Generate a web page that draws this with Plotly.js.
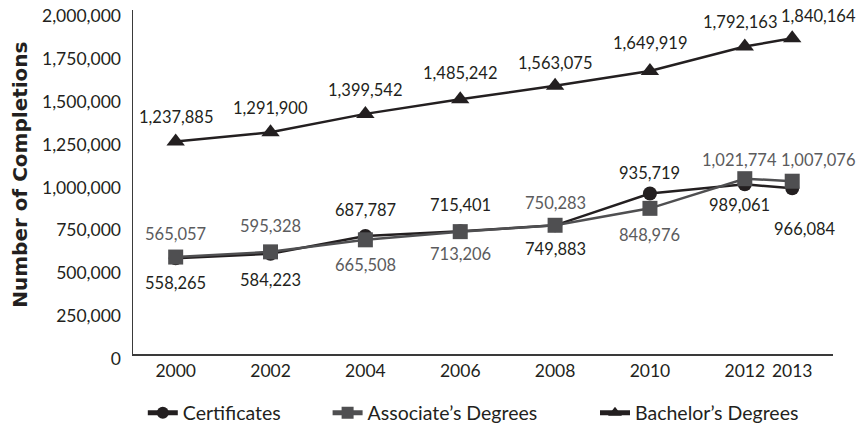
<!DOCTYPE html>
<html>
<head>
<meta charset="utf-8">
<script src="https://cdn.plot.ly/plotly-3.0.1.min.js"></script>
<style>html,body{margin:0;padding:0;background:#fff;}#chart{width:859px;height:427px;}</style>
</head>
<body>
<div id="chart"></div>
<script>
// ---- data ----
const years = [2000, 2002, 2004, 2006, 2008, 2010, 2012, 2013];
const yearLabels = ['2000', '2002', '2004', '2006', '2008', '2010', '2012', '2013'];
const certificates = [558265, 584223, 687787, 715401, 749883, 935719, 989061, 966084];
const associates = [565057, 595328, 665508, 713206, 750283, 848976, 1021774, 1007076];
const bachelors = [1237885, 1291900, 1399542, 1485242, 1563075, 1649919, 1792163, 1840164];
const yTickVals = [0, 250000, 500000, 750000, 1000000, 1250000, 1500000, 1750000, 2000000];
const seriesNames = ['Certificates', 'Associate\u2019s Degrees', 'Bachelor\u2019s Degrees'];

// ---- label placement (style) ----
const certShiftY = [-25, -26, 26, 26, -24, 20, -21, -41];
const certShiftX = [0, 0, 0, 0, 0, 0, -5, 13];
const assocShiftY = [23, 26, -25, -22, 22, -27, 19, 21];
const assocShiftX = [0, 0, 0, 0, 0, 0, -5, 26];
const bachShiftY = [25, 24, 24, 26, 23, 28, 25, 22];
const bachShiftX = [0, 0, 0, 0, 0, 0, -5, 26];

const DARK = '#231f20';
const GREY = '#4f4f51';
const GREYTXT = '#5b5b5d';
const FONT = 'Lato, "Open Sans", sans-serif';

function fmt(v) { return v.toLocaleString('en-US'); }

const traces = [
  {x: years, y: certificates, name: seriesNames[0], type: 'scatter', mode: 'lines+markers', legend: 'legend',
   line: {color: DARK, width: 2.5}, marker: {symbol: 'circle', size: 14, color: DARK}},
  {x: years, y: associates, name: seriesNames[1], type: 'scatter', mode: 'lines+markers', legend: 'legend2',
   line: {color: GREY, width: 2.5}, marker: {symbol: 'square', size: 15, color: GREY}},
  {x: years, y: bachelors, name: seriesNames[2], type: 'scatter', mode: 'lines+markers', legend: 'legend3',
   line: {color: DARK, width: 2.5}, marker: {symbol: 'triangle-up', size: 16, color: DARK}}
];

const annotations = [];
function addLabels(vals, sy, sx, color) {
  vals.forEach(function (v, i) {
    annotations.push({x: years[i], y: v, xref: 'x', yref: 'y', text: fmt(v), showarrow: false,
      xanchor: 'center', yanchor: 'middle', yshift: sy[i], xshift: sx[i],
      font: {family: FONT, size: 16.5, color: color}});
  });
}
addLabels(certificates, certShiftY, certShiftX, DARK);
addLabels(associates, assocShiftY, assocShiftX, GREYTXT);
addLabels(bachelors, bachShiftY, bachShiftX, DARK);

annotations.push({xref: 'paper', yref: 'paper', x: -0.161, y: 0.522, text: '<b>Number of Completions</b>',
  textangle: -90, showarrow: false, xanchor: 'center', yanchor: 'middle',
  font: {family: '"DejaVu Sans", sans-serif', size: 20, color: DARK}});

function legendAt(xp) {
  return {orientation: 'h', x: xp, xanchor: 'left', y: -0.172, yanchor: 'middle',
    itemsizing: 'constant', bgcolor: 'rgba(0,0,0,0)', borderwidth: 0,
    font: {family: FONT, size: 19.5, color: DARK}};
}

const layout = {
  width: 859, height: 427,
  margin: {l: 133, r: 26, t: 10, b: 73, autoexpand: false},
  paper_bgcolor: '#fff', plot_bgcolor: '#fff',
  showlegend: true,
  legend: legendAt(0.014),
  legend2: legendAt(0.278),
  legend3: legendAt(0.66),
  xaxis: {type: 'linear', range: [1999.1, 2013.86], tickvals: years, ticktext: yearLabels,
    showgrid: false, zeroline: false, showline: true, linecolor: '#3a3a3a', linewidth: 1.5,
    ticks: '', tickfont: {family: FONT, size: 17.5, color: DARK}, ticklabelstandoff: 0},
  yaxis: {range: [0, 2005000], tickvals: yTickVals, ticktext: yTickVals.map(fmt),
    showgrid: false, zeroline: false, showline: true, linecolor: '#3a3a3a', linewidth: 1.5,
    ticks: '', tickfont: {family: FONT, size: 17.5, color: DARK}, ticklabelstandoff: 7, ticklabelshift: 5,
    ticklabeloverflow: 'allow'},
  annotations: annotations
};

Plotly.newPlot('chart', traces, layout, {displayModeBar: false, staticPlot: true});
</script>
</body>
</html>
